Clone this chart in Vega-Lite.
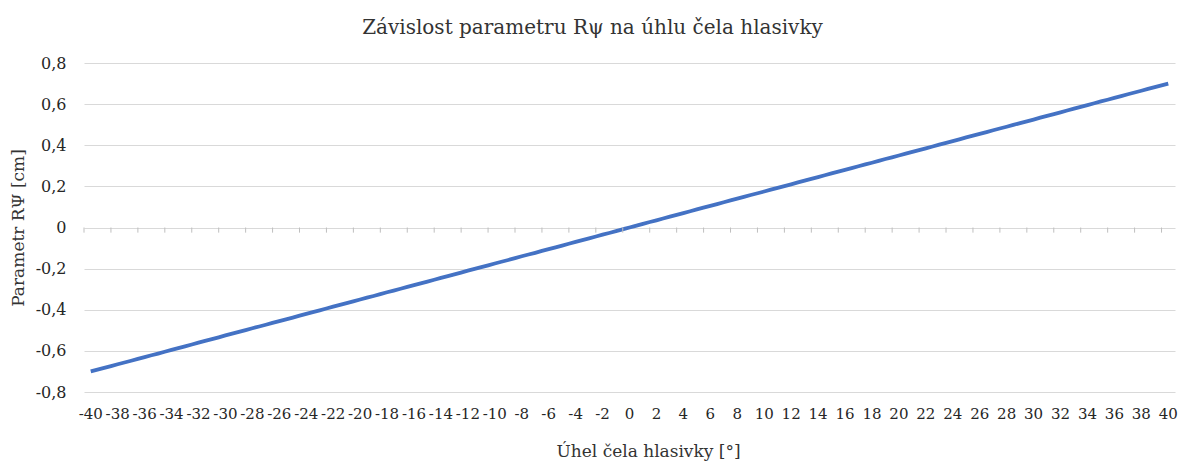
{
  "$schema": "https://vega.github.io/schema/vega-lite/v6.json",
  "autosize": "none",
  "width": 1091,
  "height": 329,
  "padding": {"left": 84, "top": 63, "right": 11, "bottom": 73},
  "background": "white",
  "config": {
    "view": {"stroke": null},
    "font": "DejaVu Serif"
  },
  "title": {
    "text": "Závislost parametru Rψ na úhlu čela hlasivky",
    "font": "DejaVu Serif",
    "fontSize": 20,
    "fontWeight": "normal",
    "color": "#333333",
    "anchor": "middle",
    "dx": -37,
    "offset": 17
  },
  "data": {
    "values": [
      {"angle": -40, "r": -0.700}, {"angle": -39, "r": -0.683}, {"angle": -38, "r": -0.665}, {"angle": -37, "r": -0.648},
      {"angle": -36, "r": -0.630}, {"angle": -35, "r": -0.613}, {"angle": -34, "r": -0.595}, {"angle": -33, "r": -0.578},
      {"angle": -32, "r": -0.560}, {"angle": -31, "r": -0.543}, {"angle": -30, "r": -0.525}, {"angle": -29, "r": -0.508},
      {"angle": -28, "r": -0.490}, {"angle": -27, "r": -0.473}, {"angle": -26, "r": -0.455}, {"angle": -25, "r": -0.438},
      {"angle": -24, "r": -0.420}, {"angle": -23, "r": -0.403}, {"angle": -22, "r": -0.385}, {"angle": -21, "r": -0.368},
      {"angle": -20, "r": -0.350}, {"angle": -19, "r": -0.333}, {"angle": -18, "r": -0.315}, {"angle": -17, "r": -0.298},
      {"angle": -16, "r": -0.280}, {"angle": -15, "r": -0.263}, {"angle": -14, "r": -0.245}, {"angle": -13, "r": -0.228},
      {"angle": -12, "r": -0.210}, {"angle": -11, "r": -0.193}, {"angle": -10, "r": -0.175}, {"angle": -9, "r": -0.158},
      {"angle": -8, "r": -0.140}, {"angle": -7, "r": -0.123}, {"angle": -6, "r": -0.105}, {"angle": -5, "r": -0.088},
      {"angle": -4, "r": -0.070}, {"angle": -3, "r": -0.053}, {"angle": -2, "r": -0.035}, {"angle": -1, "r": -0.018},
      {"angle": 0, "r": 0.000},
      {"angle": 1, "r": 0.018}, {"angle": 2, "r": 0.035}, {"angle": 3, "r": 0.053}, {"angle": 4, "r": 0.070},
      {"angle": 5, "r": 0.088}, {"angle": 6, "r": 0.105}, {"angle": 7, "r": 0.123}, {"angle": 8, "r": 0.140},
      {"angle": 9, "r": 0.158}, {"angle": 10, "r": 0.175}, {"angle": 11, "r": 0.193}, {"angle": 12, "r": 0.210},
      {"angle": 13, "r": 0.228}, {"angle": 14, "r": 0.245}, {"angle": 15, "r": 0.263}, {"angle": 16, "r": 0.280},
      {"angle": 17, "r": 0.298}, {"angle": 18, "r": 0.315}, {"angle": 19, "r": 0.333}, {"angle": 20, "r": 0.350},
      {"angle": 21, "r": 0.368}, {"angle": 22, "r": 0.385}, {"angle": 23, "r": 0.403}, {"angle": 24, "r": 0.420},
      {"angle": 25, "r": 0.438}, {"angle": 26, "r": 0.455}, {"angle": 27, "r": 0.473}, {"angle": 28, "r": 0.490},
      {"angle": 29, "r": 0.508}, {"angle": 30, "r": 0.525}, {"angle": 31, "r": 0.543}, {"angle": 32, "r": 0.560},
      {"angle": 33, "r": 0.578}, {"angle": 34, "r": 0.595}, {"angle": 35, "r": 0.613}, {"angle": 36, "r": 0.630},
      {"angle": 37, "r": 0.648}, {"angle": 38, "r": 0.665}, {"angle": 39, "r": 0.683}, {"angle": 40, "r": 0.700}
    ]
  },
  "encoding": {
    "x": {
      "field": "angle",
      "type": "ordinal",
      "sort": "ascending",
      "scale": {"type": "band", "paddingInner": 0, "paddingOuter": 0},
      "axis": {
        "title": "Úhel čela hlasivky [°]",
        "values": [-40,-38,-36,-34,-32,-30,-28,-26,-24,-22,-20,-18,-16,-14,-12,-10,-8,-6,-4,-2,0,2,4,6,8,10,12,14,16,18,20,22,24,26,28,30,32,34,36,38,40],
        "labelAngle": 0,
        "domain": false,
        "ticks": false,
        "grid": false,
        "labelFont": "DejaVu Serif",
        "labelFontSize": 15,
        "labelColor": "#262626",
        "labelPadding": 14,
        "labelOverlap": false,
        "labelFlush": false,
        "titleFont": "DejaVu Serif",
        "titleFontSize": 17,
        "titleFontWeight": "normal",
        "titleColor": "#333333",
        "titlePadding": 22,
        "titleX": 564
      }
    }
  },
  "layer": [
    {
      "mark": {"type": "line", "color": "#4472C4", "strokeWidth": 3.8, "interpolate": "monotone"},
      "encoding": {
        "y": {
          "field": "r",
          "type": "quantitative",
          "scale": {"domain": [-0.8, 0.8], "nice": false, "zero": false},
          "axis": {
            "title": "Parametr RΨ [cm]",
            "values": [-0.8, -0.6, -0.4, -0.2, 0, 0.2, 0.4, 0.6, 0.8],
            "labelExpr": "datum.value == 0 ? '0' : replace(replace(format(datum.value, '.1f'), '−', '-'), '.', ',')",
            "domain": false,
            "ticks": false,
            "grid": true,
            "gridColor": "#d9d9d9",
            "gridWidth": 1,
            "labelFont": "DejaVu Serif",
            "labelFontSize": 16,
            "labelColor": "#262626",
            "labelPadding": 18,
            "titleFont": "DejaVu Serif",
            "titleFontSize": 17,
            "titleFontWeight": "normal",
            "titleColor": "#333333",
            "titlePadding": 8
          }
        }
      }
    },
    {
      "transform": [{"filter": "datum.angle % 2 == 0"}],
      "mark": {"type": "rule", "color": "#bfbfbf", "strokeWidth": 1},
      "encoding": {
        "x": {"field": "angle", "type": "ordinal", "bandPosition": 0},
        "y": {"datum": 0, "type": "quantitative"},
        "y2": {"datum": -0.025}
      }
    }
  ]
}
